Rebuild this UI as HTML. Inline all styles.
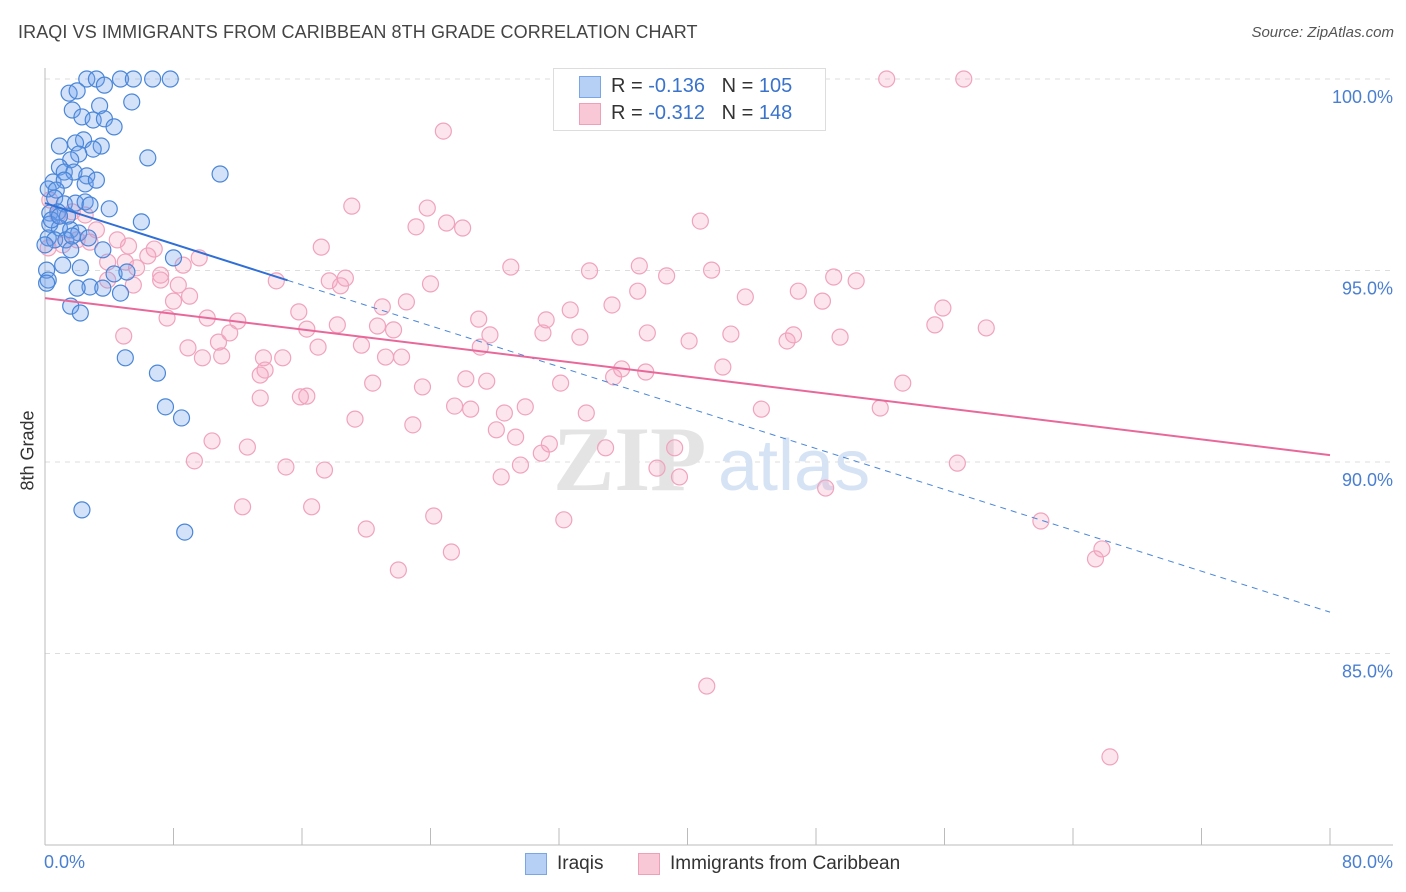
<!DOCTYPE html>
<html><head><meta charset="utf-8">
<style>
body{margin:0;background:#fff;font-family:"Liberation Sans",sans-serif;}
#wrap{position:relative;width:1406px;height:892px;overflow:hidden;}
.t{position:absolute;white-space:nowrap;}
</style></head><body>
<div id="wrap">
<div class="t" style="left:18px;top:22px;font-size:18px;letter-spacing:0.1px;color:#444;">IRAQI VS IMMIGRANTS FROM CARIBBEAN 8TH GRADE CORRELATION CHART</div>
<div class="t" style="right:12px;top:24px;font-size:15px;color:#555;font-style:italic;">Source: ZipAtlas.com</div>
<svg id="svg" width="1406" height="892" style="position:absolute;left:0;top:0"></svg>
</div>
<script>
const blueX=[2.6,3.2,4.7,5.5,6.7,7.8,3.7,1.5,2.0,5.4,1.7,3.4,2.3,3.0,3.7,4.3,2.4,0.9,1.9,3.5,3.0,2.1,1.6,6.4,0.9,1.2,1.8,2.6,10.9,0.5,1.2,2.5,3.2,0.2,0.7,0.6,1.2,1.9,2.5,2.8,4.0,6.0,0.3,0.8,1.4,0.3,0.9,1.6,2.1,0.2,0.6,1.3,1.7,2.7,3.6,1.6,1.1,2.2,0.1,4.3,5.1,0.2,2.8,2.0,3.6,4.7,1.6,2.2,8.0,5.0,7.0,7.5,8.5,2.3,8.7,0.1,0.4,0.9,0];
const blueY=[100,100,100,100,100,100,99.84,99.63,99.69,99.4,99.19,99.3,99.01,98.93,98.96,98.75,98.41,98.25,98.33,98.25,98.17,98.04,97.89,97.94,97.7,97.57,97.57,97.47,97.52,97.31,97.36,97.26,97.36,97.13,97.1,96.89,96.74,96.76,96.79,96.71,96.61,96.27,96.5,96.53,96.42,96.21,96.11,96.06,95.98,95.85,95.8,95.8,95.9,95.85,95.54,95.54,95.14,95.07,95.01,94.91,94.96,94.75,94.57,94.54,94.54,94.41,94.07,93.89,95.33,92.72,92.32,91.44,91.15,88.75,88.17,94.67,96.32,96.42,95.67];
const pinkX=[52.4,57.2,24.8,40.8,19.1,23.8,23.1,25.0,26.0,17.2,29.0,33.9,37.0,38.7,41.5,49.1,50.5,18.7,17.7,18.4,24.0,43.6,46.9,48.4,22.5,27.0,32.7,35.3,36.9,15.8,21.0,55.9,55.4,58.6,31.2,27.7,31.0,33.3,37.5,40.1,42.7,46.2,49.5,46.6,16.3,18.2,20.7,21.7,27.1,17.0,19.7,13.6,21.2,22.2,14.8,35.9,37.4,35.4,42.2,13.7,13.4,20.4,23.5,26.2,27.5,32.1,53.4,16.3,13.4,15.9,25.5,26.5,28.6,29.9,33.7,44.6,52.0,19.3,22.9,28.1,29.3,31.4,30.9,34.9,39.2,10.4,12.6,9.3,15.0,17.4,29.6,28.4,38.1,39.5,56.8,48.6,12.3,16.6,24.2,32.3,62.0,20.0,25.3,65.8,65.4,22.0,41.2,66.3,0.3,0.8,1.7,2.5,3.2,1.1,0.2,2.0,2.8,4.5,5.2,6.8,3.9,5.0,6.4,8.6,9.6,5.7,7.2,8.3,7.2,3.9,5.5,8.0,7.6,10.1,12.0,4.9,11.5,8.9,10.8,9.8,11.0,14.4,9.0];
const pinkY=[100,100,98.64,96.29,96.68,96.63,96.14,96.24,96.11,95.61,95.09,94.99,95.12,94.86,95.01,94.83,94.73,94.8,94.73,94.6,94.65,94.31,94.46,94.2,94.18,93.73,93.97,94.1,94.46,93.92,94.05,94.02,93.58,93.5,93.71,93.32,93.37,93.26,93.37,93.16,93.34,93.16,93.26,93.32,93.47,93.58,93.55,93.45,93.0,93.0,93.05,92.72,92.74,92.74,92.72,92.43,92.35,92.22,92.48,92.4,92.27,92.06,91.96,92.17,92.11,92.06,92.06,91.72,91.67,91.7,91.46,91.38,91.28,91.44,91.28,91.38,91.41,91.12,90.97,90.84,90.65,90.47,90.23,90.37,90.37,90.55,90.39,90.03,89.87,89.79,89.92,89.61,89.84,89.61,89.97,89.32,88.83,88.83,88.59,88.49,88.46,88.25,87.65,87.73,87.47,87.18,84.15,82.3,96.84,96.45,96.53,96.45,96.06,95.67,95.59,95.8,95.74,95.8,95.64,95.56,95.22,95.22,95.38,95.14,95.33,95.07,94.88,94.62,94.75,94.75,94.62,94.2,93.76,93.76,93.68,93.29,93.37,92.98,93.13,92.72,92.77,94.73,94.33];
const blueTrend=[96.76,86.08];
const pinkTrend=[94.28,90.18];
const blueSolidEnd=[15.1];
const yTicks=[100,95,90,85];
const yTickLabels=["100.0%","95.0%","90.0%","85.0%"];
const xTicks=[0,8,16,24,32,40,48,56,64,72,80];

const X=v=>45+v/80*1285;
const Y=v=>79+(100-v)*38.3;
const svg=document.getElementById('svg');
const NS='http://www.w3.org/2000/svg';
function mk(tag,at){const e=document.createElementNS(NS,tag);for(const k in at)e.setAttribute(k,at[k]);svg.appendChild(e);return e;}

yTicks.forEach((t,i)=>{
  const g=mk('line',{x1:45,x2:1393,y1:Y(t),y2:Y(t),stroke:'#ddd','stroke-dasharray':'5,5'});
  
  
  const tx=mk('text',{x:1393,y:Y(t)+24,'text-anchor':'end','font-size':18,fill:'#4a7fd0','font-family':'Liberation Sans, sans-serif'});
  tx.textContent=yTickLabels[i];
  
  
});
let a=mk('line',{x1:45,x2:45,y1:68,y2:845,stroke:'#bbb'});


a=mk('line',{x1:45,x2:1393,y1:845,y2:845,stroke:'#bbb'});


xTicks.forEach(t=>{
  const l=mk('line',{x1:X(t),x2:X(t),y1:828,y2:845,stroke:'#bbb'});
  
  
});
let w=mk('text',{x:553,y:490,'font-size':92,fill:'#e4e4e4','font-family':'Liberation Serif, serif','font-weight':'bold'});
w.textContent='ZIP';


w=mk('text',{x:718,y:490,'font-size':72,fill:'#d6e3f5','font-family':'Liberation Sans, sans-serif'});
w.textContent='atlas';



pinkX.forEach((x,i)=>{
  const c=mk('circle',{cx:X(x),cy:Y(pinkY[i]),r:8,fill:'rgba(244,160,190,0.28)',stroke:'#f0a3bd','stroke-width':1.2});
  
  
});
blueX.forEach((x,i)=>{
  const c=mk('circle',{cx:X(x),cy:Y(blueY[i]),r:8,fill:'rgba(110,160,235,0.3)',stroke:'#4a86d8','stroke-width':1.2});
  
  
});
const by=x=>blueTrend[0]+(blueTrend[1]-blueTrend[0])*x/80;
let t=mk('line',{x1:X(0),y1:Y(by(0)),x2:X(blueSolidEnd[0]),y2:Y(by(blueSolidEnd[0])),stroke:'#2f6fd6','stroke-width':2});


t=mk('line',{x1:X(blueSolidEnd[0]),y1:Y(by(blueSolidEnd[0])),x2:X(80),y2:Y(by(80)),stroke:'#4a86d8','stroke-width':1,'stroke-dasharray':'6,5'});


t=mk('line',{x1:X(0),y1:Y(pinkTrend[0]),x2:X(80),y2:Y(pinkTrend[1]),stroke:'#e8689a','stroke-width':2});


</script>
<div class="t" style="left:44px;top:852px;font-size:18px;color:#4a7fd0;">0.0%</div>
<div class="t" style="right:13px;top:852px;font-size:18px;color:#4a7fd0;">80.0%</div>
<div class="t" style="left:-7px;top:445px;font-size:18px;color:#333;transform:rotate(-90deg);transform-origin:center;width:70px;text-align:center;">8th Grade</div>
<div style="position:absolute;left:553px;top:68px;width:271px;height:61px;border:1px solid #ddd;background:#fff;">
 <div style="position:absolute;left:25px;top:7px;width:20px;height:20px;background:#b5cff5;border:1px solid #7aa6e6;"></div>
 <div class="t" style="left:57px;top:6px;font-size:20px;color:#333;">R = <span style="color:#3a73cc">-0.136</span>&nbsp;&nbsp;&nbsp;N = <span style="color:#3a73cc">105</span></div>
 <div style="position:absolute;left:25px;top:34px;width:20px;height:20px;background:#f9c8d7;border:1px solid #eea0b9;"></div>
 <div class="t" style="left:57px;top:33px;font-size:20px;color:#333;">R = <span style="color:#3a73cc">-0.312</span>&nbsp;&nbsp;&nbsp;N = <span style="color:#3a73cc">148</span></div>
</div>
<div style="position:absolute;left:525px;top:853px;width:20px;height:20px;background:#b5cff5;border:1px solid #7aa6e6;"></div>
<div class="t" style="left:557px;top:853px;font-size:19px;color:#333;">Iraqis</div>
<div style="position:absolute;left:638px;top:853px;width:20px;height:20px;background:#f9c8d7;border:1px solid #eea0b9;"></div>
<div class="t" style="left:670px;top:853px;font-size:19px;color:#333;">Immigrants from Caribbean</div>
</body></html>
